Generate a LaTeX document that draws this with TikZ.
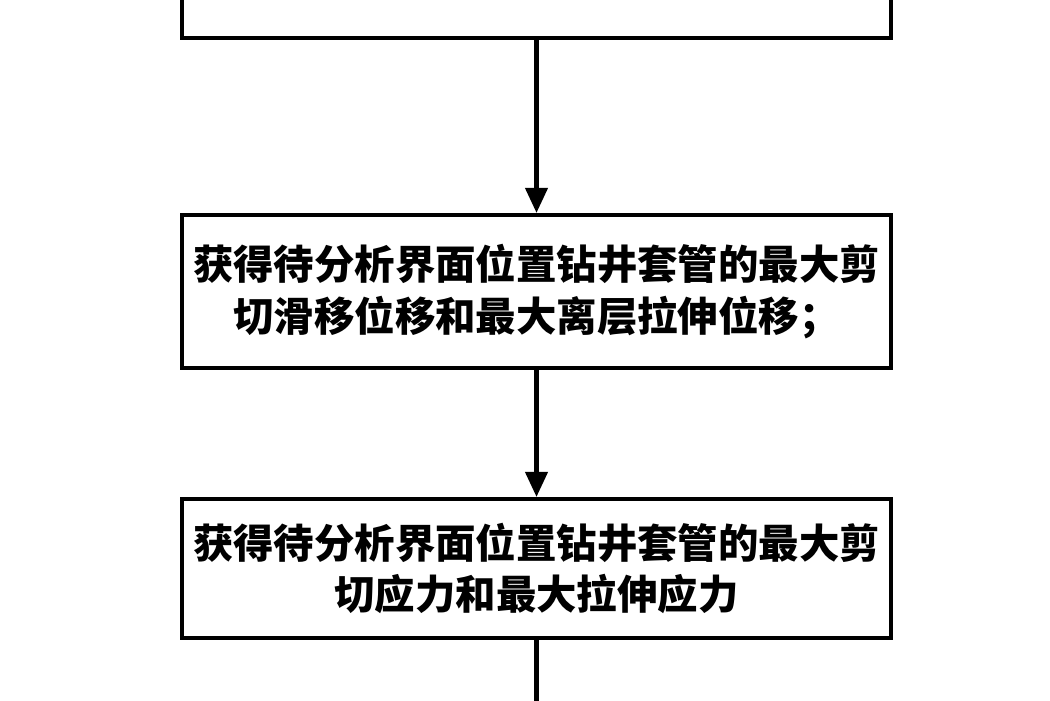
\documentclass[tikz,border=0pt]{standalone}
\usepackage{fontspec}
\newfontfamily\cjk{Noto Sans CJK SC}
\usetikzlibrary{arrows.meta}

\begin{document}
\begin{tikzpicture}[x=0.02cm,y=-0.02cm]
\clip (0,0) rectangle (1050,700);
\begin{scope}[every node/.style={rectangle,draw,line width=2.4pt,minimum width=14.18cm,inner sep=0pt,align=center,font=\cjk\bfseries\fontsize{23}{29.5}\selectfont}]
    \node[minimum height=3cm] (step1) at (536.5,-37) {};
    \node[minimum height=3.06cm] (step2) at (536.5,291.5) {获得待分析界面位置钻井套管的最大剪\\切滑移位移和最大离层拉伸位移；};
    \node[minimum height=2.78cm] (step3) at (536.5,568.5) {获得待分析界面位置钻井套管的最大剪\\切应力和最大拉伸应力};
\end{scope}
\coordinate (next) at (536.5,720);
\begin{scope}[every edge/.style={draw=black,line width=2.4pt}]
    \path (step1) edge[-{Triangle[length=0.5cm,width=0.44cm]}] (step2);
    \path (step2) edge[-{Triangle[length=0.5cm,width=0.44cm]}] (step3);
    \path (step3) edge (next);
\end{scope}
\end{tikzpicture}
\end{document}
